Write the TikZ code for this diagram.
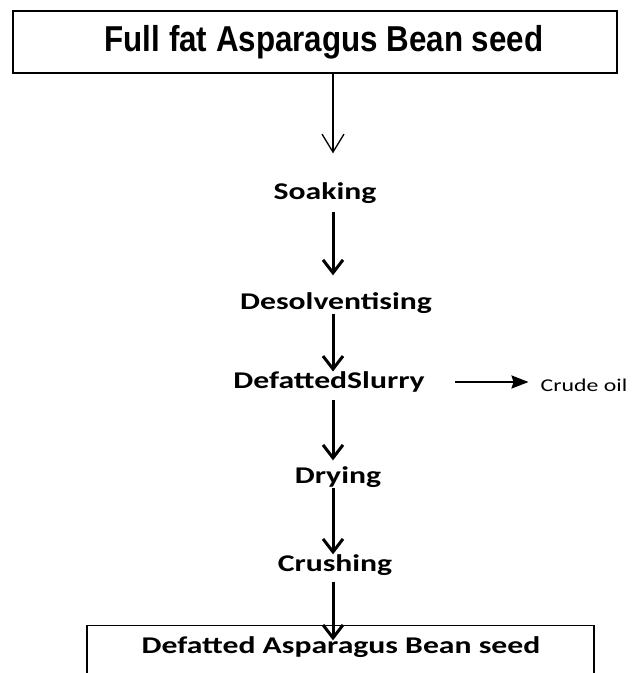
\documentclass[tikz,border=0pt]{standalone}
\usepackage{fontspec}
\usetikzlibrary{positioning,arrows.meta}
\newfontfamily\titlefont[FakeStretch=0.87]{Liberation Sans}
\newfontfamily\stepfont[FakeStretch=1.32]{Carlito}

\begin{document}
\begin{tikzpicture}[x=1pt, y=1pt,
        stage/.style={inner sep=0pt, font=\stepfont\bfseries\fontsize{24}{28}\selectfont},
        flow/.style={line width=3pt, -{Straight Barb[length=13pt,width=20pt]}}]
        \useasboundingbox (0,0) rectangle (636,-673);
        \coordinate (spine) at (333,0);

        \node[draw, rectangle, line width=1.2pt, minimum width=604pt, minimum height=62pt, font=\titlefont\bfseries\fontsize{36}{40}\selectfont] (seed) at (315,-42) {\hspace*{18pt}Full fat Asparagus Bean seed};
        \node[stage, node distance=151pt, below of=seed, xshift=10pt] (soak) {Soaking};
        \node[stage, node distance=110pt, below of=soak, xshift=11pt] (desolv) {Desolventising};
        \node[stage, node distance=79pt, below of=desolv, xshift=-7pt] (slurry) {DefattedSlurry};
        \node[inner sep=0pt, font=\stepfont\fontsize{18}{22}\selectfont, node distance=255pt, right of=slurry, yshift=-3pt] (oil) {Crude oil};
        \node[stage, node distance=95pt, below of=slurry, xshift=9pt] (dry) {Drying};
        \node[stage, node distance=88pt, below of=dry, xshift=-3pt] (crush) {Crushing};
        \node[draw, rectangle, line width=1.4pt, minimum width=507pt, minimum height=80pt, anchor=north] (meal) at (340.5,-625) {};
        \node[stage, node distance=82pt, below of=crush, xshift=6pt] (defat) {Defatted Asparagus Bean seed};

        \draw[line width=1.3pt, -{Straight Barb[length=18pt,width=22pt]}, shorten >=29pt] (seed.south -| spine) -- (soak.north -| spine);
        \draw[flow, shorten <=8pt, shorten >=17pt] (soak.south -| spine) -- (desolv.north -| spine);
        \draw[flow] (desolv.south -| spine) -- (slurry.north -| spine);
        \draw[flow, shorten <=7pt, shorten >=6pt] (slurry.south -| spine) -- (dry.north -| spine);
        \draw[flow] (dry.south -| spine) -- (crush.north -| spine);
        \draw[flow, shorten <=6pt, shorten >=-4pt] (crush.south -| spine) -- (defat.north -| spine);
        \draw[line width=2.2pt, -{Stealth[length=17pt,width=13pt,inset=2pt]}, shorten <=30pt, shorten >=12pt] (slurry.east) -- (slurry.east -| oil.west);
    \end{tikzpicture}
\end{document}
